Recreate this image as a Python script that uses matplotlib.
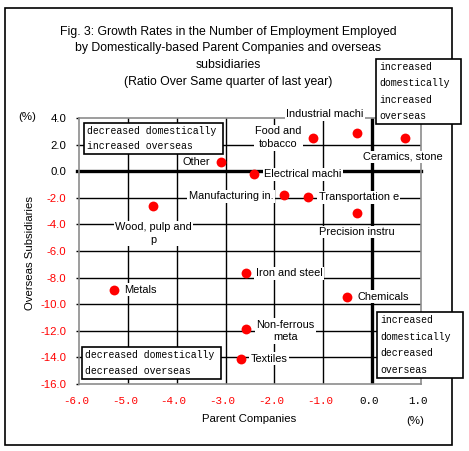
import matplotlib
matplotlib.use("Agg")
import matplotlib.pyplot as plt
from matplotlib.patches import Rectangle
from matplotlib.transforms import ScaledTranslation

# ---- data ----
industries = ["Industrial machi", "Food and\ntobacco", "Ceramics, stone", "Other",
              "Electrical machi", "Manufacturing in.", "Transportation e",
              "Precision instru", "Wood, pulp and\np", "Iron and steel", "Metals",
              "Chemicals", "Non-ferrous\nmeta", "Textiles"]
parent = [-0.31, -1.21, 0.67, -3.10, -2.41, -1.80, -1.32, -0.31, -4.48, -2.59,
          -5.29, -0.52, -2.59, -2.69]
overseas = [2.85, 2.51, 2.51, 0.70, -0.23, -1.81, -1.96, -3.15, -2.64, -7.68,
            -8.91, -9.43, -11.87, -14.09]
xticks = [-6, -5, -4, -3, -2, -1, 0, 1]
yticks = [4, 2, 0, -2, -4, -6, -8, -10, -12, -14, -16]
title_lines = ["Fig. 3: Growth Rates in the Number of Employment Employed",
               "by Domestically-based Parent Companies and overseas",
               "subsidiaries",
               "(Ratio Over Same quarter of last year)"]
quadrant_texts = [["decreased domestically", "increased overseas"],
                  ["increased", "domestically", "increased", "overseas"],
                  ["decreased domestically", "decreased overseas"],
                  ["increased", "domestically", "decreased", "overseas"]]

W, H = 469, 451
fig = plt.figure(figsize=(W / 100, H / 100), dpi=100)
fig.patch.set_facecolor("white")

SANS = "Liberation Sans"
MONO = "Liberation Mono"

def fx(px):
    return px / W

def fy(py):
    return 1 - py / H

ax = fig.add_axes([fx(79), fy(384), (421 - 79) / W, (384 - 118) / H])
ax.set_xlim(-6, 1)
ax.set_ylim(-16, 4)
ax.set_facecolor("white")
for s in ax.spines.values():
    s.set_color("#8c8c8c")
    s.set_linewidth(1.2)
    s.set_zorder(2)

# grid
for x in xticks[1:-1]:
    if x == 0:
        continue
    ax.axvline(x, color="black", lw=1.0, zorder=1)
for y in yticks[1:-1]:
    if y == 0:
        continue
    ax.axhline(y, color="black", lw=1.0, zorder=1)
ax.axhline(0, color="black", lw=2.4, zorder=2, xmin=-0.005, clip_on=False)
ax.axvline(0, color="black", lw=2.4, zorder=2)

# ticks
ax.set_xticks(xticks)
ax.set_xticklabels([f"{v:.1f}" for v in xticks], family=MONO, fontsize=7.8)
ax.set_yticks(yticks)
ax.set_yticklabels([f"{v:.1f}" for v in yticks], family=SANS, fontsize=8.2)
ax.tick_params(axis="x", length=0, pad=9)
ax.tick_params(axis="y", length=2.5, width=1, color="black", pad=6.5)
for lab, v in zip(ax.get_xticklabels(), xticks):
    lab.set_color("red" if v < 0 else "black")
    lab.set_transform(lab.get_transform() + ScaledTranslation(-3 / 100, 0, fig.dpi_scale_trans))
for lab, v in zip(ax.get_yticklabels(), yticks):
    lab.set_color("red" if v < 0 else "black")

# points
ax.scatter(parent, overseas, s=50, color="red", zorder=6, linewidths=0)

# labels
offsets = [(-32, 19, "center"), (-35, 0, "center"), (-2, -19, "center"),
           (-11, 0, "right"), (10, 0, "left"), (-11, -1, "right"),
           (11, 0, "left"), (0, -19, "center"), (0, -27, "center"),
           (10, 0, "left"), (10, 0, "left"), (11, 0, "left"),
           (40, -2, "center"), (10, 0, "left")]
for name, x, y, (dx, dy, ha) in zip(industries, parent, overseas, offsets):
    ax.annotate(name, (x, y), xytext=(dx, dy), textcoords="offset pixels",
                ha=ha, va="center", multialignment="center",
                family=SANS, fontsize=7.9, linespacing=1.35, zorder=5,
                annotation_clip=False,
                bbox=dict(boxstyle="square,pad=0.12", fc="white", ec="none"))

# axis labels
fig.text(fx(30), fy(253), "Overseas Subsidiaries", rotation=90, ha="center",
         va="center", family=SANS, fontsize=8.2)
fig.text(fx(27), fy(117), "(%)", ha="center", va="center", family=SANS, fontsize=8.2)
fig.text(fx(249), fy(419), "Parent Companies", ha="center", va="center",
         family=SANS, fontsize=8.2)
fig.text(fx(415), fy(421), "(%)", ha="center", va="center", family=SANS, fontsize=8.2)

# title
for line, py in zip(title_lines, [32, 48, 65, 82]):
    fig.text(fx(228), fy(py), line, ha="center", va="center", family=SANS, fontsize=8.8)

# outer border
fig.patches.append(Rectangle((fx(5), fy(445)), (452 - 5) / W, (445 - 8) / H,
                             transform=fig.transFigure, fill=False, ec="black",
                             lw=1.2, zorder=0))

# quadrant boxes (pixel boxes: left, top, right, bottom)
boxes = [(84, 123, 223, 154), (376, 59, 461, 124), (82, 347, 221, 379), (377, 312, 463, 378)]
for (l, t, r, b), lines in zip(boxes, quadrant_texts):
    fig.patches.append(Rectangle((fx(l), fy(b)), (r - l) / W, (b - t) / H,
                                 transform=fig.transFigure, fc="white", ec="black",
                                 lw=1.2, zorder=8))
    n = len(lines)
    step = (b - t) / n
    for i, line in enumerate(lines):
        fig.text(fx(l + 3), fy(t + step * (i + 0.5)), line, ha="left", va="center",
                 family=MONO, fontsize=7.1, zorder=9)

fig.savefig("out.png", dpi=100, facecolor="white")
